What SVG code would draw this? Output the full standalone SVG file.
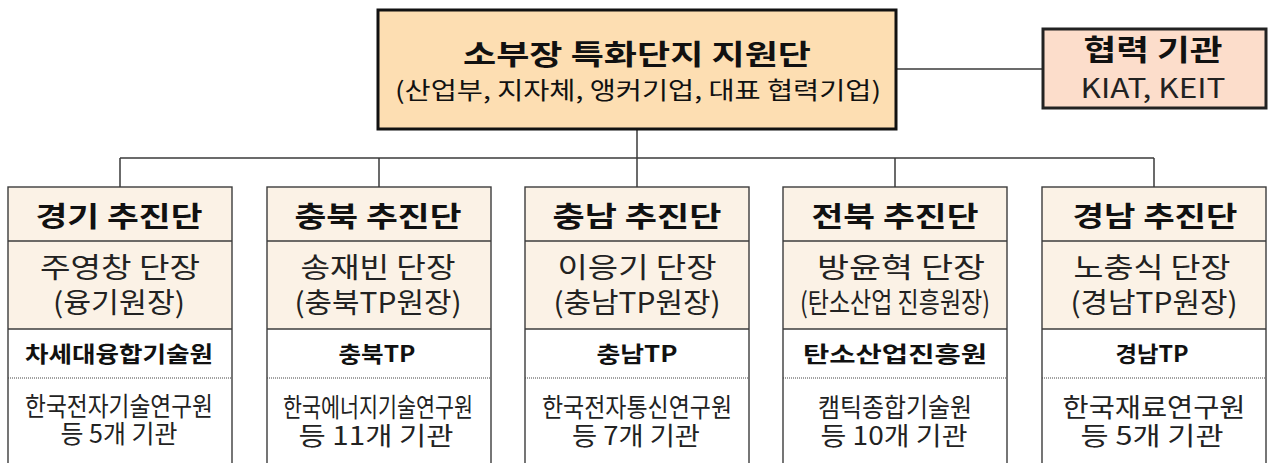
<svg xmlns="http://www.w3.org/2000/svg" width="1268" height="463" viewBox="0 0 1268 463">
<style>
text{font-family:"Noto Sans CJK KR","Noto Sans",sans-serif;text-anchor:middle;fill:#111}
.b{font-weight:bold}
.t1{font-size:28px}
.t2{font-size:24px}
.h{font-size:28px;font-weight:bold}
.r2{font-size:28px;fill:#222}
.r3{font-size:22px;font-weight:bold}
.r4{font-size:26px;fill:#222}
.r4b{font-size:25px;fill:#222}
.col{stroke:#3c3c3c;stroke-width:1.4;fill:none}
.cream{fill:#FBF2E6}
.div{stroke:#3c3c3c;stroke-width:1.4}
.dot{stroke:#444;stroke-width:1;stroke-dasharray:1 1}
.con{stroke:#3a3a3a;stroke-width:1.5;fill:none}
</style>
<rect width="1268" height="463" fill="#fff"/>
<g id="connectors">
<line class="con" x1="897" y1="69" x2="1042" y2="69"/>
<line class="con" x1="637" y1="130" x2="637" y2="158" stroke="#777" stroke-width="2"/>
<line class="con" x1="120" y1="158" x2="1154" y2="158"/>
<line class="con" x1="120" y1="158" x2="120" y2="187"/>
<line class="con" x1="379" y1="158" x2="379" y2="187"/>
<line class="con" x1="637" y1="158" x2="637" y2="187"/>
<line class="con" x1="895" y1="158" x2="895" y2="187"/>
<line class="con" x1="1154" y1="158" x2="1154" y2="187"/>
</g>
<g id="top">
<rect x="378" y="10" width="518" height="119" fill="#FDDEB2" stroke="#111" stroke-width="3"/>
<text class="t1 b" x="637" y="65" textLength="348" lengthAdjust="spacingAndGlyphs">소부장 특화단지 지원단</text>
<text class="t2" x="638" y="99" textLength="486" lengthAdjust="spacingAndGlyphs">(산업부, 지자체, 앵커기업, 대표 협력기업)</text>
</g>
<g id="partner">
<rect x="1043" y="29" width="223" height="79" fill="#FCDDCB" stroke="#222" stroke-width="3"/>
<text class="b" style="font-size:29px" x="1153" y="61" textLength="139" lengthAdjust="spacingAndGlyphs">협력 기관</text>
<text style="font-size:27px;fill:#222" x="1153" y="98" textLength="145" lengthAdjust="spacingAndGlyphs">KIAT, KEIT</text>
</g>
<g id="col1">
<rect class="cream" x="8" y="187" width="224" height="142"/>
<rect class="col" x="8" y="187" width="224" height="290"/>
<line class="div" x1="8" y1="241" x2="232" y2="241"/>
<line class="div" x1="8" y1="329" x2="232" y2="329"/>
<line class="dot" x1="8" y1="378" x2="232" y2="378"/>
<text class="h" x="119" y="227" textLength="167" lengthAdjust="spacingAndGlyphs">경기 추진단</text>
<text class="r2" x="120" y="278" textLength="160" lengthAdjust="spacingAndGlyphs">주영창 단장</text>
<text class="r2" x="119" y="313" textLength="132" lengthAdjust="spacingAndGlyphs">(융기원장)</text>
<text class="r3" x="119" y="362" textLength="188" lengthAdjust="spacingAndGlyphs">차세대융합기술원</text>
<text class="r4" x="119" y="416" textLength="188" lengthAdjust="spacingAndGlyphs">한국전자기술연구원</text>
<text class="r4b" x="119" y="443" textLength="117" lengthAdjust="spacingAndGlyphs">등 5개 기관</text>
</g>
<g id="col2">
<rect class="cream" x="267" y="187" width="224" height="142"/>
<rect class="col" x="267" y="187" width="224" height="290"/>
<line class="div" x1="267" y1="241" x2="491" y2="241"/>
<line class="div" x1="267" y1="329" x2="491" y2="329"/>
<line class="dot" x1="267" y1="378" x2="491" y2="378"/>
<text class="h" x="378" y="227" textLength="167" lengthAdjust="spacingAndGlyphs">충북 추진단</text>
<text class="r2" x="378" y="278" textLength="155" lengthAdjust="spacingAndGlyphs">송재빈 단장</text>
<text class="r2" x="378" y="313" textLength="167" lengthAdjust="spacingAndGlyphs">(충북TP원장)</text>
<text class="r3" x="377" y="362" textLength="77" lengthAdjust="spacingAndGlyphs">충북TP</text>
<text class="r4" x="378" y="417" textLength="190" lengthAdjust="spacingAndGlyphs">한국에너지기술연구원</text>
<text class="r4b" x="376" y="445" textLength="155" lengthAdjust="spacingAndGlyphs">등 11개 기관</text>
</g>
<g id="col3">
<rect class="cream" x="525" y="187" width="224" height="142"/>
<rect class="col" x="525" y="187" width="224" height="290"/>
<line class="div" x1="525" y1="241" x2="749" y2="241"/>
<line class="div" x1="525" y1="329" x2="749" y2="329"/>
<line class="dot" x1="525" y1="378" x2="749" y2="378"/>
<text class="h" x="637" y="227" textLength="169" lengthAdjust="spacingAndGlyphs">충남 추진단</text>
<text class="r2" x="637" y="278" textLength="159" lengthAdjust="spacingAndGlyphs">이응기 단장</text>
<text class="r2" x="637" y="313" textLength="167" lengthAdjust="spacingAndGlyphs">(충남TP원장)</text>
<text class="r3" x="637" y="362" textLength="81" lengthAdjust="spacingAndGlyphs">충남TP</text>
<text class="r4" x="637" y="417" textLength="190" lengthAdjust="spacingAndGlyphs">한국전자통신연구원</text>
<text class="r4b" x="636" y="445" textLength="128" lengthAdjust="spacingAndGlyphs">등 7개 기관</text>
</g>
<g id="col4">
<rect class="cream" x="783" y="187" width="224" height="142"/>
<rect class="col" x="783" y="187" width="224" height="290"/>
<line class="div" x1="783" y1="241" x2="1007" y2="241"/>
<line class="div" x1="783" y1="329" x2="1007" y2="329"/>
<line class="dot" x1="783" y1="378" x2="1007" y2="378"/>
<text class="h" x="895" y="227" textLength="167" lengthAdjust="spacingAndGlyphs">전북 추진단</text>
<text class="r2" x="901" y="278" textLength="168" lengthAdjust="spacingAndGlyphs">방윤혁 단장</text>
<text class="r2" x="895" y="313" textLength="190" lengthAdjust="spacingAndGlyphs">(탄소산업 진흥원장)</text>
<text class="r3" x="895" y="362" textLength="184" lengthAdjust="spacingAndGlyphs">탄소산업진흥원</text>
<text class="r4" x="895" y="417" textLength="154" lengthAdjust="spacingAndGlyphs">캠틱종합기술원</text>
<text class="r4b" x="894" y="445" textLength="147" lengthAdjust="spacingAndGlyphs">등 10개 기관</text>
</g>
<g id="col5">
<rect class="cream" x="1042" y="187" width="224" height="142"/>
<rect class="col" x="1042" y="187" width="224" height="290"/>
<line class="div" x1="1042" y1="241" x2="1266" y2="241"/>
<line class="div" x1="1042" y1="329" x2="1266" y2="329"/>
<line class="dot" x1="1042" y1="378" x2="1266" y2="378"/>
<text class="h" x="1155" y="227" textLength="165" lengthAdjust="spacingAndGlyphs">경남 추진단</text>
<text class="r2" x="1152" y="278" textLength="157" lengthAdjust="spacingAndGlyphs">노충식 단장</text>
<text class="r2" x="1154" y="313" textLength="167" lengthAdjust="spacingAndGlyphs">(경남TP원장)</text>
<text class="r3" x="1152" y="362" textLength="73" lengthAdjust="spacingAndGlyphs">경남TP</text>
<text class="r4" x="1154" y="417" textLength="183" lengthAdjust="spacingAndGlyphs">한국재료연구원</text>
<text class="r4b" x="1152" y="445" textLength="143" lengthAdjust="spacingAndGlyphs">등 5개 기관</text>
</g>
</svg>
